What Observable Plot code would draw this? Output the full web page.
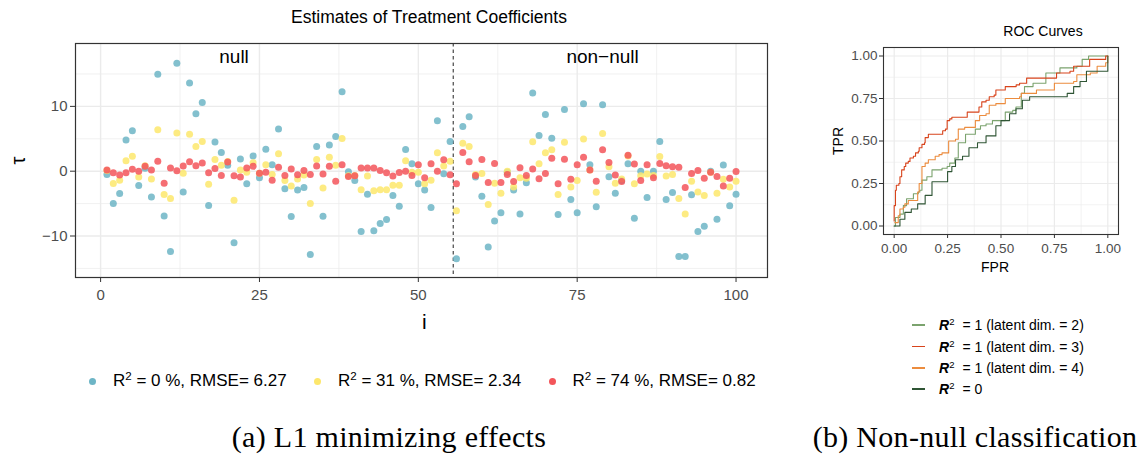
<!DOCTYPE html>
<html>
<head>
<meta charset="utf-8">
<script src="https://cdn.jsdelivr.net/npm/d3@7"></script>
<script src="https://cdn.jsdelivr.net/npm/@observablehq/plot@0.6"></script>
<style>
  body { margin: 0; background: #fff; }
  #fig { position: relative; width: 1145px; height: 462px; overflow: hidden;
         font-family: "Liberation Sans", Arial, sans-serif; color: #000; }
  .abs { position: absolute; }
  .title { font-size: 17.5px; text-align: center; white-space: nowrap; }
  .caption { font-family: "Liberation Serif", "Times New Roman", serif; font-size: 30px;
             letter-spacing: 0.3px; white-space: nowrap; text-align: center; }
  .lg-item { position: absolute; display: flex; align-items: center; font-size: 17px; white-space: nowrap; }
  .lg-dot { width: 7px; height: 7px; border-radius: 50%; margin-right: 17px; }
  sup { font-size: 0.68em; vertical-align: 0.55em; line-height: 0; }
  .roc-row { position: absolute; display: flex; align-items: center; font-size: 14px; white-space: nowrap; }
  .roc-key { width: 13px; height: 1.6px; margin-right: 14px; }
  .roc-eq { margin-left: 8px; }
</style>
</head>
<body>
<div id="fig"></div>
<script>
// ---------- treatment coefficient estimates, i = 1..100 ----------
const idx = d3.range(1, 101);
const nullBoundary = 55.5;

const seriesNames = ["R2_0", "R2_31", "R2_74"];
const seriesColors = ["#6DB5C6", "#FDE76C", "#F3555A"];
const r2Labels = ["0 %", "31 %", "74 %"];
const rmseLabels = ["6.27", "2.34", "0.82"];

const tauR2_0 = [
  -0.5, -5.0, -3.45, 4.8, 6.25, -2.2, 0.45, -4.0, 14.95, -6.9,
  -12.4, 16.65, -3.2, 13.6, 8.85, 10.6, -5.3, 4.5, 2.9, 0.9,
  -11.05, 1.9, -1.95, 2.35, -1.0, 3.4, 1.0, 6.5, -2.7, -7.0,
  -2.9, -2.5, -12.85, 3.8, -6.95, 4.05, 5.35, 12.25, -0.1, -1.45,
  -9.3, -3.55, -9.2, -8.05, -7.45, -3.75, -5.4, 3.35, 1.15, -1.95,
  -2.9, -5.6, 7.8, -0.4, 4.6, -13.5, 6.9, 8.4, -0.9, -3.85,
  -11.7, -7.7, -6.4, -0.15, -2.9, -6.6, -1.8, 12.05, 5.5, 8.75,
  5.1, -6.7, 9.5, -4.35, -6.4, 10.4, 1.0, -5.5, 10.25, -0.85,
  -3.4, -1.45, 1.15, -7.25, 0.0, -4.05, 0.0, 4.6, -4.35, -3.3,
  -13.15, -13.15, -3.65, -9.3, -8.5, 0.0, -7.4, 0.95, -5.35, -3.55
];
const tauR2_31 = [
  0.1, -1.9, -1.4, 1.6, 2.3, -0.9, 0.85, -1.2, 6.4, -3.6,
  -4.2, 5.9, -0.3, 5.7, 3.8, 4.6, -2.0, 1.8, 0.9, 1.5,
  -4.5, 0.2, -0.15, 1.3, -0.3, 1.0, -0.5, 2.7, -1.45, -2.3,
  -1.2, -0.6, -5.0, 1.8, -2.6, 2.15, 0.9, 5.05, -0.7, -0.65,
  -2.85, -0.75, -3.0, -2.85, -2.85, -2.15, -2.15, 1.6, -0.15, -0.15,
  -1.95, -1.4, 2.85, 0.8, 1.55, -6.1, 4.3, 3.8, -0.5, -0.35,
  -5.15, -1.85, -3.4, 0.0, -2.45, -1.0, -1.1, 4.55, 1.15, 2.85,
  3.3, -3.6, 4.45, -2.45, -1.45, 4.95, 0.2, -3.25, 5.8, 0.7,
  -1.85, -1.2, 2.35, -1.95, -0.7, -0.45, -0.65, 2.25, -0.75, -0.5,
  -4.2, -6.6, -1.55, -3.2, -3.75, -0.15, -3.4, -1.25, -2.45, -1.55
];
const tauR2_74 = [
  0.2, -0.25, -0.6, -0.25, 0.3, 0.0, 0.75, 0.2, 1.55, -1.85,
  0.5, 0.05, 0.8, 1.45, 0.85, 1.25, -0.25, 0.4, -0.65, 1.4,
  -0.7, -0.9, 0.5, 0.75, -0.3, -0.15, -1.4, 0.6, -0.65, 0.35,
  -0.55, 0.1, -0.5, 0.8, -0.45, 0.75, -1.55, 1.0, -0.8, -0.7,
  0.5, 0.5, 0.5, 0.1, -0.25, -0.75, -0.2, 0.0, -0.65, 1.0,
  -1.0, 1.15, 0.0, 1.75, -0.55, -1.95, 2.9, 1.45, -0.65, 1.8,
  -1.75, 1.2, -1.75, -0.5, -1.6, 0.55, -0.65, 0.35, -1.15, -0.35,
  2.0, -1.95, 1.85, -1.25, 1.0, 2.15, 0.2, -1.55, 3.3, 1.35,
  -0.6, -1.6, 2.45, 1.1, -1.45, 1.0, -1.0, 1.2, 0.85, 0.7,
  0.6, -2.5, -0.35, 0.1, -1.1, -0.15, -0.8, -2.3, -1.1, -0.05
];

const regionLabels = ["null", "non\u2212null"];

// ---------- ROC curves: [FPR, TPR] ----------
const rocNames = ["dim2", "dim3", "dim4", "r2zero"];
const rocColors = ["#7BA36E", "#D8441C", "#EC8C3E", "#2F5535"];
const rocLegend = ["= 1 (latent dim. = 2)", "= 1 (latent dim. = 3)", "= 1 (latent dim. = 4)", "= 0"];

const rocDim2 = [[0,0],[0.006,0.05],[0.027,0.07],[0.043,0.12],[0.058,0.16],[0.09,0.19],[0.113,0.20],[0.12,0.21],[0.13,0.27],[0.153,0.29],[0.177,0.33],[0.224,0.34],[0.248,0.35],[0.26,0.37],[0.284,0.40],[0.30,0.49],[0.334,0.54],[0.38,0.57],[0.404,0.59],[0.43,0.60],[0.46,0.62],[0.5,0.62],[0.52,0.67],[0.555,0.68],[0.57,0.70],[0.595,0.78],[0.61,0.82],[0.65,0.84],[0.71,0.90],[0.744,0.90],[0.776,0.93],[0.855,0.94],[0.88,0.98],[0.91,1.0],[1,1]];
const rocDim3 = [[0,0.03],[0,0.12],[0.006,0.21],[0.01,0.24],[0.022,0.25],[0.027,0.29],[0.035,0.33],[0.047,0.35],[0.054,0.37],[0.066,0.38],[0.074,0.40],[0.09,0.41],[0.1,0.43],[0.113,0.44],[0.117,0.46],[0.13,0.48],[0.142,0.49],[0.145,0.52],[0.16,0.54],[0.224,0.54],[0.227,0.56],[0.24,0.57],[0.248,0.62],[0.26,0.63],[0.27,0.64],[0.334,0.64],[0.342,0.67],[0.39,0.67],[0.397,0.70],[0.41,0.73],[0.43,0.74],[0.445,0.76],[0.468,0.77],[0.476,0.80],[0.508,0.80],[0.52,0.82],[0.571,0.83],[0.587,0.84],[0.62,0.87],[0.744,0.87],[0.76,0.90],[0.823,0.91],[0.84,0.94],[0.902,0.94],[0.915,0.98],[0.981,0.98],[0.99,1.0],[1,1]];
const rocDim4 = [[0.003,0.02],[0.019,0.06],[0.027,0.1],[0.043,0.11],[0.05,0.13],[0.066,0.15],[0.098,0.15],[0.11,0.2],[0.117,0.25],[0.13,0.35],[0.145,0.37],[0.16,0.39],[0.192,0.41],[0.21,0.42],[0.224,0.43],[0.248,0.43],[0.255,0.50],[0.287,0.51],[0.30,0.57],[0.33,0.58],[0.366,0.58],[0.38,0.62],[0.40,0.65],[0.43,0.66],[0.445,0.71],[0.476,0.72],[0.516,0.72],[0.52,0.75],[0.587,0.76],[0.595,0.78],[0.65,0.78],[0.666,0.80],[0.744,0.80],[0.75,0.84],[0.84,0.85],[0.855,0.89],[0.918,0.90],[0.95,0.94],[0.99,0.96],[1,1]];
const rocR2Zero = [[0,0],[0.02,0],[0.027,0.04],[0.05,0.08],[0.08,0.10],[0.11,0.13],[0.145,0.18],[0.177,0.26],[0.224,0.26],[0.25,0.32],[0.27,0.35],[0.287,0.39],[0.32,0.41],[0.35,0.46],[0.39,0.49],[0.43,0.53],[0.476,0.59],[0.5,0.62],[0.54,0.66],[0.57,0.69],[0.6,0.74],[0.634,0.76],[0.776,0.76],[0.81,0.78],[0.84,0.82],[0.87,0.85],[0.9,0.91],[0.98,0.91],[1,1]];

// ---------- build tidy tables ----------
const tauSeries = [tauR2_0, tauR2_31, tauR2_74];
const points = [];
tauSeries.forEach((vals, s) => vals.forEach((v, k) => points.push({ i: idx[k], tau: v, model: seriesNames[s] })));

const rocSeries = [rocDim2, rocDim3, rocDim4, rocR2Zero];
const rocRows = [];
rocSeries.forEach((pts, s) => pts.forEach(([fpr, tpr]) => rocRows.push({ fpr, tpr, model: rocNames[s] })));

const fig = document.getElementById("fig");
function place(el, left, top) {
  const wrap = document.createElement("div");
  wrap.className = "abs";
  wrap.style.left = left + "px";
  wrap.style.top = top + "px";
  wrap.appendChild(el);
  fig.appendChild(wrap);
  return wrap;
}
function addHTML(html, cls, style) {
  const d = document.createElement("div");
  d.className = "abs " + cls;
  d.innerHTML = html;
  Object.assign(d.style, style);
  fig.appendChild(d);
  return d;
}

const gridColor = "#EBEBEB";
const axisText = "#4D4D4D";
const axisTick = "#333333";

// ---------- left panel: estimates ----------
const left = Plot.plot({
  width: 770, height: 330,
  marginLeft: 75, marginRight: 3, marginTop: 43, marginBottom: 53,
  style: { fontFamily: "Liberation Sans, Arial, sans-serif", background: "transparent", overflow: "visible" },
  x: { domain: [-3.95, 104.95], label: null },
  y: { domain: [-16.4, 19.7], label: null },
  color: { domain: seriesNames, range: seriesColors },
  marks: [
    Plot.gridX([12.5, 37.5, 62.5, 87.5], { stroke: gridColor, strokeOpacity: 1, strokeWidth: 0.7 }),
    Plot.gridY([-15, -5, 5, 15], { stroke: gridColor, strokeOpacity: 1, strokeWidth: 0.7 }),
    Plot.gridX([0, 25, 50, 75, 100], { stroke: gridColor, strokeOpacity: 1, strokeWidth: 1.4 }),
    Plot.gridY([-10, 0, 10], { stroke: gridColor, strokeOpacity: 1, strokeWidth: 1.4 }),
    Plot.ruleX([nullBoundary], { stroke: "#555", strokeWidth: 1.3, strokeDasharray: "3.5,3" }),
    Plot.dot(points, { x: "i", y: "tau", fill: "model", r: 3.5, fillOpacity: 0.85, stroke: null }),
    Plot.text([regionLabels[0]], { x: 21, y: 17.6, text: d => d, fontSize: 19, fill: "#000" }),
    Plot.text([regionLabels[1]], { x: 79, y: 17.6, text: d => d, fontSize: 19, fill: "#000" }),
    Plot.axisX({ ticks: [0, 25, 50, 75, 100], tickSize: 5, tickPadding: 7, fontSize: 15, stroke: axisTick, fill: axisText, label: null }),
    Plot.axisY({ ticks: [-10, 0, 10], tickSize: 5, tickPadding: 3, fontSize: 15, stroke: axisTick, fill: axisText, label: null }),
    Plot.frame({ stroke: "#333", strokeWidth: 1.2 })
  ]
});
place(left, 0, 0);

addHTML("Estimates of Treatment Coefficients", "title", { left: "0px", width: "858px", top: "7px" });
addHTML("τ", "", { left: "15px", top: "149px", fontSize: "20px", transform: "rotate(-90deg)" });
addHTML("i", "", { left: "422px", top: "310px", fontSize: "21px" });

const legendLeft = [89, 314, 548.5];
seriesNames.forEach((n, s) => {
  const item = document.createElement("div");
  item.className = "lg-item";
  item.style.left = legendLeft[s] + "px";
  item.style.top = "371px";
  item.innerHTML = `<div class="lg-dot" style="background:${seriesColors[s]}"></div><span>R<sup>2</sup> = ${r2Labels[s]}, RMSE= ${rmseLabels[s]}</span>`;
  fig.appendChild(item);
});

addHTML("(a) L1 minimizing effects", "caption", { left: "189px", width: "400px", top: "420px" });

// ---------- right panel: ROC curves ----------
const right = Plot.plot({
  width: 325, height: 290,
  marginLeft: 63, marginRight: 27, marginTop: 47, marginBottom: 56,
  style: { fontFamily: "Liberation Sans, Arial, sans-serif", background: "transparent", overflow: "visible" },
  x: { domain: [-0.05, 1.05], label: null },
  y: { domain: [-0.05, 1.05], label: null },
  color: { domain: rocNames, range: rocColors },
  marks: [
    Plot.gridX([0.125, 0.375, 0.625, 0.875], { stroke: gridColor, strokeOpacity: 1, strokeWidth: 0.6 }),
    Plot.gridY([0.125, 0.375, 0.625, 0.875], { stroke: gridColor, strokeOpacity: 1, strokeWidth: 0.6 }),
    Plot.gridX([0, 0.25, 0.5, 0.75, 1], { stroke: gridColor, strokeOpacity: 1, strokeWidth: 1.2 }),
    Plot.gridY([0, 0.25, 0.5, 0.75, 1], { stroke: gridColor, strokeOpacity: 1, strokeWidth: 1.2 }),
    Plot.line(rocRows, { x: "fpr", y: "tpr", z: "model", stroke: "model", strokeWidth: 1.1, curve: "step-after" }),
    Plot.axisX({ ticks: [0, 0.25, 0.5, 0.75, 1], tickFormat: d3.format(".2f"), tickSize: 4, tickPadding: 5, fontSize: 13.5, stroke: axisTick, fill: axisText, label: null }),
    Plot.axisY({ ticks: [0, 0.25, 0.5, 0.75, 1], tickFormat: d3.format(".2f"), tickSize: 4, tickPadding: 2, fontSize: 13.5, stroke: axisTick, fill: axisText, label: null }),
    Plot.frame({ stroke: "#333", strokeWidth: 1.1 })
  ]
});
place(right, 820, 0);

addHTML("ROC Curves", "title", { left: "943px", width: "200px", top: "23px", fontSize: "14px" });
addHTML("FPR", "", { left: "981px", top: "259px", fontSize: "14px" });
addHTML("TPR", "", { left: "824px", top: "133px", fontSize: "14px", transform: "rotate(-90deg)" });

const rocRowTop = [317, 338.5, 360, 381];
rocNames.forEach((n, s) => {
  const row = document.createElement("div");
  row.className = "roc-row";
  row.style.left = "912px";
  row.style.top = rocRowTop[s] + "px";
  row.innerHTML = `<div class="roc-key" style="background:${rocColors[s]}"></div><span><b><i>R</i></b><sup>2</sup><span class="roc-eq">${rocLegend[s]}</span></span>`;
  fig.appendChild(row);
});

addHTML("(b) Non-null classification", "caption", { left: "775px", width: "400px", top: "420px" });
</script>
</body>
</html>
